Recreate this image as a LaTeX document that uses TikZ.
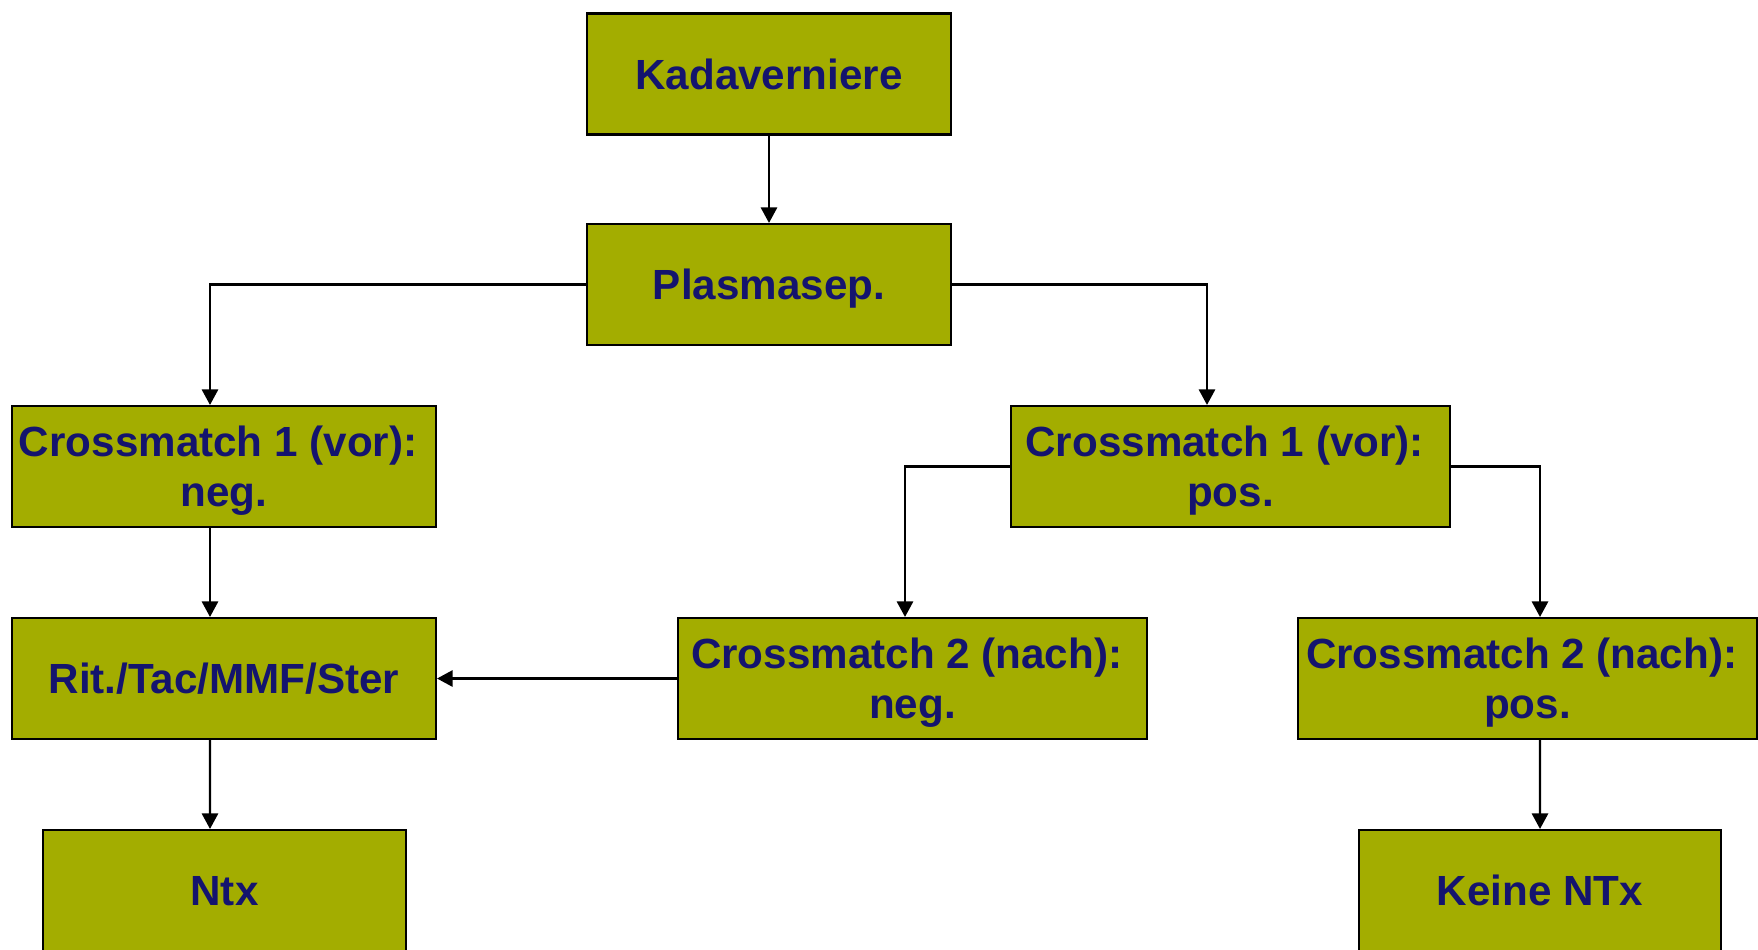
\documentclass[tikz,border=0pt]{standalone}
\usepackage{fontspec}
\setmainfont{Liberation Sans}
\usetikzlibrary{arrows.meta,positioning}
\definecolor{TxOlive}{HTML}{A3AD00}
\definecolor{TxNavy}{HTML}{14146E}

\begin{document}
\begin{tikzpicture}[
  font=\fontsize{12}{14.2}\selectfont\bfseries,
  box/.style={draw=black, line width=0.6pt, fill=TxOlive, text=TxNavy,
    align=center, minimum height=1.21cm, inner sep=1pt, text depth=0pt},
  arr/.style={-{Triangle[length=4.4pt,width=4.6pt]}, line width=0.6pt, draw=black}
]
\useasboundingbox (0,0) rectangle (17.58,-9.49);
\node[box, minimum width=3.64cm] (kad) at (7.69,-0.74) {Kadaverniere};
\node[box, minimum width=3.64cm] (plasm) at (7.69,-2.845) {Plasmasep.};
\node[box, minimum width=4.24cm] (cmvorneg) at (2.24,-4.665) {Crossmatch 1 (vor):\kern3.3pt\\neg.};
\node[box, minimum width=4.39cm] (cmvorpos) at (12.305,-4.665) {Crossmatch 1 (vor):\kern3.3pt\\pos.};
\node[box, minimum width=4.24cm] (rit) at (2.24,-6.785) {Rit./Tac/MMF/Ster};
\node[box, minimum width=4.69cm] (cmnachneg) at (9.125,-6.785) {Crossmatch 2 (nach):\kern3.3pt\\neg.};
\node[box, minimum width=4.59cm] (cmnachpos) at (15.275,-6.785) {Crossmatch 2 (nach):\kern3.3pt\\pos.};
\node[box, minimum width=3.63cm] (ntx) at (2.245,-8.905) {Ntx};
\node[box, minimum width=3.62cm] (keine) at (15.40,-8.905) {Keine NTx};

\draw[arr] (kad) -- (plasm);
\draw[arr] (plasm.west) -| ([xshift=-0.14cm]cmvorneg.north);
\draw[arr] (plasm.east) -| ([xshift=-0.235cm]cmvorpos.north);
\draw[arr] ([xshift=-0.14cm]cmvorneg.south) -- ([xshift=-0.14cm]rit.north);
\draw[arr] ([xshift=-0.14cm]rit.south) -- ([xshift=-0.145cm]ntx.north);
\draw[arr] (cmvorpos.west) -| ([xshift=-0.075cm]cmnachneg.north);
\draw[arr] (cmvorpos.east) -| ([xshift=0.125cm]cmnachpos.north);
\draw[arr] (cmnachneg.west) -- (rit.east);
\draw[arr] ([xshift=0.125cm]cmnachpos.south) -- (keine.north);
\end{tikzpicture}
\end{document}
